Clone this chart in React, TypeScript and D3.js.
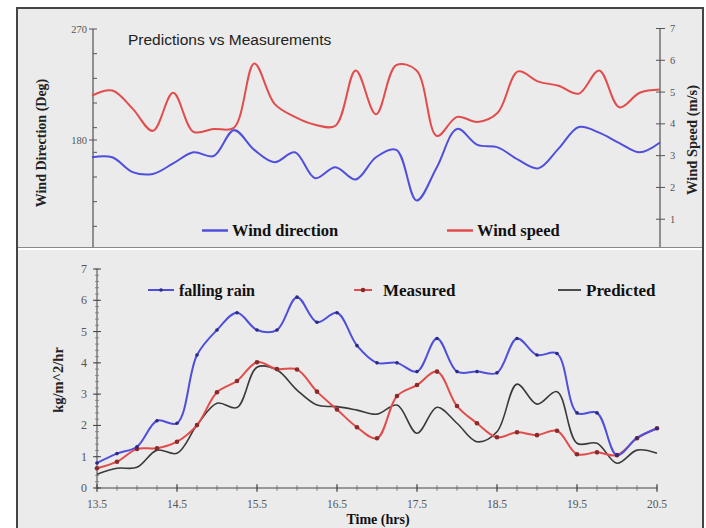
import React from "react";
import * as d3 from "d3";

const times = [13.5, 13.75, 14.0, 14.25, 14.5, 14.75, 15.0, 15.25, 15.5, 15.75, 16.0, 16.25, 16.5, 16.75, 17.0, 17.25, 17.5, 17.75, 18.0, 18.25, 18.5, 18.75, 19.0, 19.25, 19.5, 19.75, 20.0, 20.25, 20.5];

const windDirection = [166, 166, 154, 152.5, 161, 170, 167, 188, 172, 162, 170, 149, 158, 148, 166, 172, 131, 158, 189, 176, 174, 164, 157, 173, 190.5, 186, 177.5, 170, 178];
const windSpeed = [4.89, 5.05, 4.48, 3.78, 4.98, 3.75, 3.84, 3.88, 5.9, 4.63, 4.22, 3.97, 3.94, 5.68, 4.3, 5.85, 5.68, 3.62, 4.22, 4.06, 4.35, 5.65, 5.33, 5.2, 4.95, 5.68, 4.52, 4.98, 5.08];

const fallingRain = [0.8, 1.1, 1.32, 2.15, 2.07, 4.25, 5.05, 5.6, 5.05, 5.05, 6.1, 5.3, 5.6, 4.55, 4.0, 4.0, 3.72, 4.78, 3.72, 3.72, 3.68, 4.78, 4.25, 4.3, 2.4, 2.4, 1.05, 1.6, 1.9];
const measured = [0.63, 0.84, 1.25, 1.27, 1.48, 2.01, 3.06, 3.42, 4.02, 3.8, 3.79, 3.08, 2.51, 1.94, 1.59, 2.94, 3.29, 3.72, 2.62, 2.07, 1.62, 1.78, 1.69, 1.83, 1.08, 1.14, 1.05, 1.59, 1.91];
const predicted = [0.44, 0.63, 0.66, 1.21, 1.11, 2.01, 2.71, 2.57, 3.86, 3.77, 3.13, 2.65, 2.6, 2.49, 2.36, 2.65, 1.75, 2.58, 2.07, 1.48, 1.8, 3.32, 2.68, 3.08, 1.43, 1.43, 0.79, 1.21, 1.11];

const leftTopTicks = [270, 250, 230, 210, 190, 180, 170, 150, 130, 110];
const leftTopLabels = [270, 180];
const rightTopTicks = [1, 2, 3, 4, 5, 6, 7];
const xTickLabels = [13.5, 14.5, 15.5, 16.5, 17.5, 18.5, 19.5, 20.5];
const bottomYLabels = [0, 1, 2, 3, 4, 5, 6, 7];

const SERIF = "'Liberation Serif', 'DejaVu Serif', serif";
const SANS = "'Liberation Sans', Arial, sans-serif";

export default function App() {
  const xTop = d3.scaleLinear().domain([13.5, 20.5]).range([92, 660]);
  const yDir = d3.scaleLinear().domain([90, 270]).range([251, 29]);
  const ySpd = d3.scaleLinear().domain([0, 7]).range([251, 28.5]);
  const xB = d3.scaleLinear().domain([13.5, 20.5]).range([97, 657]);
  const yB = d3.scaleLinear().domain([0, 7]).range([488, 269]);

  const lineDir = d3.line<number>().x((_, i) => xTop(times[i])).y((d) => yDir(d)).curve(d3.curveCatmullRom.alpha(0.5));
  const lineSpd = d3.line<number>().x((_, i) => xTop(times[i])).y((d) => ySpd(d)).curve(d3.curveCatmullRom.alpha(0.5));
  const lineB = d3.line<number>().x((_, i) => xB(times[i])).y((d) => yB(d)).curve(d3.curveCatmullRom.alpha(0.5));

  const minorY = d3.range(0, 7.001, 0.2);
  const minorX = d3.range(13.5, 20.501, 0.25);

  const blue = "#4f4fdc";
  const red = "#e24c4c";

  return (
    <svg width={706} height={528} style={{ position: "absolute", left: 0, top: 0, background: "#fff" }}>
      <rect x={17} y={8} width={686} height={239} fill="#ebebeb" />
      <rect x={17} y={250} width={686} height={278} fill="#ebebeb" />
      <line x1={17} x2={703} y1={247.5} y2={247.5} stroke="#888" strokeWidth={1.2} />
      <rect x={17} y={8} width={686} height={522} fill="none" stroke="#444" strokeWidth={2} />

      {/* ===== TOP PANEL ===== */}
      <text x={128} y={45} fontFamily={SANS} fontSize={15.5} fill="#222">Predictions vs Measurements</text>

      <line x1={93} x2={93} y1={yDir(270)} y2={247} stroke="#333" strokeWidth={1} />
      {leftTopTicks.map((t) => (
        <line key={"lt" + t} x1={leftTopLabels.includes(t) ? 89 : 93} x2={97} y1={yDir(t)} y2={yDir(t)} stroke="#555" strokeWidth={1} />
      ))}
      {leftTopLabels.map((t) => (
        <text key={"ll" + t} x={87} y={yDir(t) + 3.5} textAnchor="end" fontFamily={SERIF} fontSize={10.5} fill="#555">{t}</text>
      ))}
      <text transform={`translate(46,143) rotate(-90)`} textAnchor="middle" fontFamily={SERIF} fontSize={14} fontWeight="bold" fill="#222">Wind Direction (Deg)</text>

      <line x1={660} x2={660} y1={ySpd(7)} y2={247} stroke="#333" strokeWidth={1} />
      {rightTopTicks.map((t) => (
        <g key={"rt" + t}>
          <line x1={656} x2={665} y1={ySpd(t)} y2={ySpd(t)} stroke="#555" strokeWidth={1} />
          <text x={670} y={ySpd(t) + 3.5} fontFamily={SERIF} fontSize={10.5} fill="#555">{t}</text>
        </g>
      ))}
      <text transform={`translate(697,140) rotate(-90)`} textAnchor="middle" fontFamily={SERIF} fontSize={14.5} fontWeight="bold" fill="#222">Wind Speed (m/s)</text>

      <path d={lineSpd(windSpeed) || ""} fill="none" stroke={red} strokeWidth={2} />
      <path d={lineDir(windDirection) || ""} fill="none" stroke={blue} strokeWidth={2} />

      <line x1={202} x2={228} y1={230.5} y2={230.5} stroke={blue} strokeWidth={2.5} />
      <text x={232} y={236} fontFamily={SERIF} fontSize={16.5} fontWeight="bold" fill="#111">Wind direction</text>
      <line x1={447} x2={473} y1={230.5} y2={230.5} stroke={red} strokeWidth={2.5} />
      <text x={477} y={236} fontFamily={SERIF} fontSize={16.5} fontWeight="bold" fill="#111">Wind speed</text>

      {/* ===== BOTTOM PANEL ===== */}
      <line x1={xB(13.5)} x2={xB(13.5)} y1={yB(7)} y2={yB(0)} stroke="#444" strokeWidth={1} />
      {minorY.map((t, i) => (
        <line key={"my" + i} x1={xB(13.5) - 2} x2={xB(13.5) + 2} y1={yB(t)} y2={yB(t)} stroke="#777" strokeWidth={0.8} />
      ))}
      {bottomYLabels.map((t) => (
        <g key={"by" + t}>
          <line x1={xB(13.5) - 4} x2={xB(13.5) + 4} y1={yB(t)} y2={yB(t)} stroke="#444" strokeWidth={1} />
          <text x={xB(13.5) - 10} y={yB(t) + 4} textAnchor="end" fontFamily={SERIF} fontSize={12} fill="#555">{t}</text>
        </g>
      ))}
      <line x1={xB(13.5)} x2={xB(20.5)} y1={yB(0)} y2={yB(0)} stroke="#444" strokeWidth={1} />
      {minorX.map((t, i) => (
        <line key={"mx" + i} x1={xB(t)} x2={xB(t)} y1={yB(0) - 2.5} y2={yB(0) + 2.5} stroke="#666" strokeWidth={0.9} />
      ))}
      {xTickLabels.map((t) => (
        <g key={"bx" + t}>
          <line x1={xB(t)} x2={xB(t)} y1={yB(0) - 4} y2={yB(0) + 4} stroke="#444" strokeWidth={1} />
          <text x={xB(t)} y={508} textAnchor="middle" fontFamily={SERIF} fontSize={11.5} fill="#555">{t}</text>
        </g>
      ))}
      <text transform={`translate(63,380) rotate(-90)`} textAnchor="middle" fontFamily={SERIF} fontSize={14.5} fontWeight="bold" fill="#222">kg/m^2/hr</text>
      <text x={378} y={524} textAnchor="middle" fontFamily={SERIF} fontSize={14} fontWeight="bold" fill="#111">Time (hrs)</text>

      <path d={lineB(predicted) || ""} fill="none" stroke="#3a3a3a" strokeWidth={1.6} />
      <path d={lineB(measured) || ""} fill="none" stroke={red} strokeWidth={2} />
      <path d={lineB(fallingRain) || ""} fill="none" stroke={blue} strokeWidth={2} />
      {measured.map((v, i) => (
        <circle key={"mm" + i} cx={xB(times[i])} cy={yB(v)} r={2.3} fill="#8a2a2a" />
      ))}
      {fallingRain.map((v, i) => (
        <circle key={"fm" + i} cx={xB(times[i])} cy={yB(v)} r={1.8} fill="#2a2a80" />
      ))}

      <line x1={148} x2={174} y1={290} y2={290} stroke={blue} strokeWidth={2} />
      <circle cx={161} cy={290} r={1.8} fill="#2a2a80" />
      <text x={179} y={295.5} fontFamily={SERIF} fontSize={16} fontWeight="bold" fill="#111">falling rain</text>
      <line x1={354} x2={372} y1={290} y2={290} stroke={red} strokeWidth={2} />
      <circle cx={363} cy={290} r={2.3} fill="#8a2a2a" />
      <text x={383} y={295.5} fontFamily={SERIF} fontSize={17} fontWeight="bold" fill="#111">Measured</text>
      <line x1={558} x2={581} y1={290} y2={290} stroke="#3a3a3a" strokeWidth={1.8} />
      <text x={586} y={295.5} fontFamily={SERIF} fontSize={17} fontWeight="bold" fill="#111">Predicted</text>
    </svg>
  );
}
